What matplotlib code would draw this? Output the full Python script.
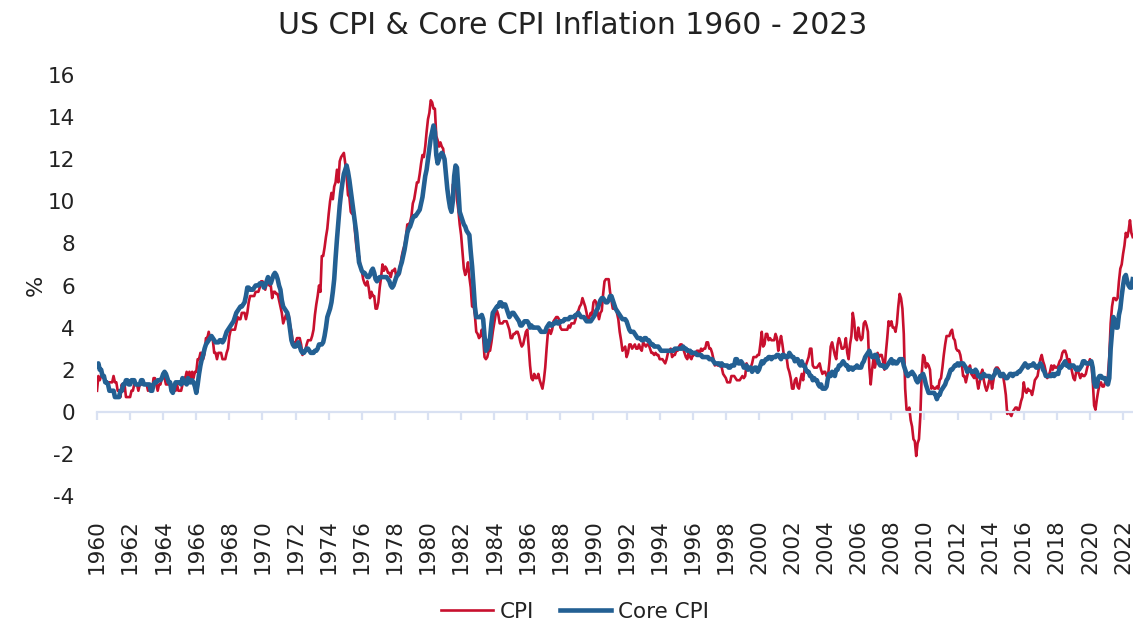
import numpy as np
import matplotlib.pyplot as plt

plt.rcParams['font.family'] = ['DejaVu Sans']
plt.rcParams['axes.unicode_minus'] = False

# monthly year-on-year inflation (%), Jan 1960 - Aug 2022
start_year = 1960

cpi = [
    1.0, 1.7, 1.5, 1.7, 1.7, 1.7, 1.4, 1.4, 1.4, 1.4, 1.4, 1.4,  # 1960
    1.7, 1.4, 1.4, 1.0, 1.0, 0.7, 1.3, 1.0, 1.3, 0.7, 0.7, 0.7,  # 1961
    0.7, 1.0, 1.0, 1.3, 1.3, 1.3, 1.0, 1.3, 1.3, 1.3, 1.3, 1.3,  # 1962
    1.3, 1.0, 1.3, 1.0, 1.0, 1.6, 1.6, 1.3, 1.0, 1.3, 1.3, 1.6,  # 1963
    1.6, 1.6, 1.3, 1.3, 1.3, 1.3, 1.3, 1.0, 1.3, 1.0, 1.3, 1.0,  # 1964
    1.0, 1.0, 1.3, 1.6, 1.6, 1.9, 1.6, 1.9, 1.6, 1.9, 1.6, 1.9,  # 1965
    1.9, 2.5, 2.5, 2.8, 2.8, 2.5, 2.8, 3.5, 3.5, 3.8, 3.5, 3.5,  # 1966
    3.4, 2.8, 2.8, 2.5, 2.8, 2.8, 2.8, 2.5, 2.5, 2.5, 2.8, 3.0,  # 1967
    3.6, 3.9, 3.9, 3.9, 3.9, 4.2, 4.5, 4.4, 4.4, 4.7, 4.7, 4.7,  # 1968
    4.4, 4.7, 5.2, 5.5, 5.5, 5.5, 5.5, 5.7, 5.7, 5.7, 5.9, 6.2,  # 1969
    6.2, 6.1, 5.8, 6.1, 6.1, 6.0, 6.0, 5.4, 5.7, 5.7, 5.6, 5.6,  # 1970
    5.3, 5.0, 4.7, 4.2, 4.4, 4.6, 4.4, 4.6, 4.1, 3.8, 3.3, 3.3,  # 1971
    3.3, 3.5, 3.5, 3.5, 3.2, 2.7, 2.9, 2.9, 3.2, 3.4, 3.4, 3.4,  # 1972
    3.6, 3.9, 4.6, 5.1, 5.5, 6.0, 5.7, 7.4, 7.4, 7.8, 8.3, 8.7,  # 1973
    9.4, 10.0, 10.4, 10.1, 10.7, 10.9, 11.5, 10.9, 11.9, 12.1, 12.2, 12.3,  # 1974
    11.8, 11.2, 10.3, 10.2, 9.5, 9.4, 9.7, 8.6, 7.9, 7.4, 7.4, 6.9,  # 1975
    6.7, 6.3, 6.1, 6.0, 6.2, 5.9, 5.4, 5.7, 5.5, 5.5, 4.9, 4.9,  # 1976
    5.2, 5.9, 6.4, 7.0, 6.7, 6.9, 6.8, 6.6, 6.6, 6.4, 6.7, 6.7,  # 1977
    6.8, 6.4, 6.6, 6.5, 7.0, 7.4, 7.7, 7.9, 8.3, 8.9, 8.9, 9.0,  # 1978
    9.3, 9.9, 10.1, 10.5, 10.9, 10.9, 11.3, 11.8, 12.2, 12.1, 12.6, 13.3,  # 1979
    13.9, 14.2, 14.8, 14.7, 14.4, 14.4, 13.1, 12.9, 12.6, 12.8, 12.6, 12.5,  # 1980
    11.8, 11.4, 10.5, 10.0, 9.8, 9.6, 10.8, 10.8, 11.0, 10.1, 9.6, 8.9,  # 1981
    8.4, 7.6, 6.8, 6.5, 6.7, 7.1, 6.4, 5.9, 5.0, 5.1, 4.6, 3.8,  # 1982
    3.7, 3.5, 3.6, 3.9, 3.5, 2.6, 2.5, 2.6, 2.9, 2.9, 3.3, 3.8,  # 1983
    4.2, 4.6, 4.8, 4.6, 4.2, 4.2, 4.2, 4.3, 4.3, 4.3, 4.1, 3.9,  # 1984
    3.5, 3.5, 3.7, 3.7, 3.8, 3.8, 3.6, 3.3, 3.1, 3.2, 3.5, 3.8,  # 1985
    3.9, 3.1, 2.2, 1.6, 1.5, 1.8, 1.6, 1.6, 1.8, 1.5, 1.3, 1.1,  # 1986
    1.5, 2.1, 3.0, 3.8, 3.9, 3.7, 3.9, 4.3, 4.4, 4.5, 4.5, 4.4,  # 1987
    4.0, 3.9, 3.9, 3.9, 3.9, 3.9, 4.1, 4.0, 4.2, 4.2, 4.2, 4.4,  # 1988
    4.7, 4.8, 5.0, 5.1, 5.4, 5.2, 5.0, 4.7, 4.3, 4.5, 4.7, 4.6,  # 1989
    5.2, 5.3, 5.2, 4.7, 4.4, 4.7, 4.8, 5.6, 6.2, 6.3, 6.3, 6.3,  # 1990
    5.7, 5.3, 4.9, 4.9, 5.0, 4.7, 4.4, 3.8, 3.4, 2.9, 3.0, 3.1,  # 1991
    2.6, 2.8, 3.2, 3.2, 3.0, 3.1, 3.2, 3.0, 3.0, 3.2, 3.0, 2.9,  # 1992
    3.3, 3.2, 3.1, 3.2, 3.2, 3.0, 2.8, 2.8, 2.7, 2.8, 2.7, 2.7,  # 1993
    2.5, 2.5, 2.5, 2.4, 2.3, 2.5, 2.8, 2.9, 3.0, 2.6, 2.7, 2.7,  # 1994
    2.9, 2.9, 3.1, 3.2, 3.2, 3.0, 2.8, 2.6, 2.5, 2.8, 2.6, 2.5,  # 1995
    2.7, 2.7, 2.8, 2.9, 2.9, 2.8, 3.0, 2.9, 3.0, 3.0, 3.3, 3.3,  # 1996
    3.0, 3.0, 2.8, 2.5, 2.2, 2.3, 2.2, 2.2, 2.2, 2.1, 1.8, 1.7,  # 1997
    1.6, 1.4, 1.4, 1.4, 1.7, 1.7, 1.7, 1.6, 1.5, 1.5, 1.5, 1.6,  # 1998
    1.7, 1.6, 1.7, 2.3, 2.1, 2.0, 2.1, 2.3, 2.6, 2.6, 2.6, 2.7,  # 1999
    2.7, 3.2, 3.8, 3.1, 3.2, 3.7, 3.7, 3.4, 3.5, 3.4, 3.4, 3.4,  # 2000
    3.7, 3.5, 2.9, 3.3, 3.6, 3.2, 2.7, 2.7, 2.6, 2.1, 1.9, 1.6,  # 2001
    1.1, 1.1, 1.5, 1.6, 1.2, 1.1, 1.5, 1.8, 1.5, 2.0, 2.2, 2.4,  # 2002
    2.6, 3.0, 3.0, 2.2, 2.1, 2.1, 2.1, 2.2, 2.3, 2.0, 1.8, 1.9,  # 2003
    1.9, 1.7, 1.7, 2.3, 3.1, 3.3, 3.0, 2.7, 2.5, 3.2, 3.5, 3.3,  # 2004
    3.0, 3.0, 3.1, 3.5, 2.8, 2.5, 3.2, 3.6, 4.7, 4.3, 3.5, 3.4,  # 2005
    4.0, 3.6, 3.4, 3.5, 4.2, 4.3, 4.1, 3.8, 2.1, 1.3, 2.0, 2.5,  # 2006
    2.1, 2.4, 2.8, 2.6, 2.7, 2.7, 2.4, 2.0, 2.8, 3.5, 4.3, 4.1,  # 2007
    4.3, 4.0, 4.0, 3.8, 4.2, 5.0, 5.6, 5.4, 4.9, 3.7, 1.1, 0.1,  # 2008
    0.0, 0.2, -0.4, -0.7, -1.3, -1.4, -2.1, -1.5, -1.3, -0.2, 1.8, 2.7,  # 2009
    2.6, 2.1, 2.3, 2.2, 2.0, 1.1, 1.2, 1.1, 1.1, 1.2, 1.1, 1.5,  # 2010
    1.6, 2.1, 2.7, 3.2, 3.6, 3.6, 3.6, 3.8, 3.9, 3.5, 3.4, 3.0,  # 2011
    2.9, 2.9, 2.7, 2.3, 1.7, 1.7, 1.4, 1.7, 2.0, 2.2, 1.8, 1.7,  # 2012
    1.6, 2.0, 1.5, 1.1, 1.4, 1.8, 2.0, 1.5, 1.2, 1.0, 1.2, 1.5,  # 2013
    1.6, 1.1, 1.5, 2.0, 2.1, 2.1, 2.0, 1.7, 1.7, 1.7, 1.3, 0.8,  # 2014
    -0.1, 0.0, -0.1, -0.2, 0.0, 0.1, 0.2, 0.2, 0.0, 0.2, 0.5, 0.7,  # 2015
    1.4, 1.0, 0.9, 1.1, 1.0, 1.0, 0.8, 1.1, 1.5, 1.6, 1.7, 2.1,  # 2016
    2.5, 2.7, 2.4, 2.2, 1.9, 1.6, 1.7, 1.9, 2.2, 2.0, 2.2, 2.1,  # 2017
    2.1, 2.2, 2.4, 2.5, 2.8, 2.9, 2.9, 2.7, 2.3, 2.5, 2.2, 1.9,  # 2018
    1.6, 1.5, 1.9, 2.0, 1.8, 1.6, 1.8, 1.7, 1.7, 1.8, 2.1, 2.3,  # 2019
    2.5, 2.3, 1.5, 0.3, 0.1, 0.6, 1.0, 1.3, 1.4, 1.2, 1.2, 1.4,  # 2020
    1.4, 1.7, 2.6, 4.2, 5.0, 5.4, 5.4, 5.3, 5.4, 6.2, 6.8, 7.0,  # 2021
    7.5, 7.9, 8.5, 8.3, 8.6, 9.1, 8.5, 8.3,  # 2022
]

core_cpi = [
    2.2, 2.3, 2.0, 2.0, 1.7, 1.7, 1.4, 1.4, 1.3, 1.0, 1.0, 1.0,  # 1960
    1.0, 0.7, 0.7, 0.7, 0.7, 1.0, 1.0, 1.3, 1.3, 1.5, 1.5, 1.3,  # 1961
    1.3, 1.5, 1.5, 1.5, 1.3, 1.3, 1.3, 1.3, 1.5, 1.5, 1.3, 1.3,  # 1962
    1.3, 1.3, 1.3, 1.0, 1.0, 1.3, 1.4, 1.4, 1.5, 1.5, 1.5, 1.6,  # 1963
    1.8, 1.9, 1.8, 1.6, 1.4, 1.4, 1.0, 0.9, 1.2, 1.4, 1.4, 1.4,  # 1964
    1.4, 1.3, 1.6, 1.4, 1.4, 1.3, 1.6, 1.4, 1.4, 1.5, 1.4, 1.2,  # 1965
    0.9, 1.3, 1.8, 2.2, 2.5, 2.7, 3.0, 3.2, 3.3, 3.4, 3.5, 3.6,  # 1966
    3.5, 3.4, 3.3, 3.3, 3.3, 3.4, 3.4, 3.3, 3.4, 3.6, 3.8, 3.9,  # 1967
    4.0, 4.1, 4.2, 4.3, 4.5, 4.7, 4.8, 4.9, 5.0, 5.0, 5.1, 5.2,  # 1968
    5.5, 5.9, 5.9, 5.8, 5.8, 5.8, 5.9, 6.0, 6.0, 6.0, 6.1, 6.1,  # 1969
    6.1, 5.9, 6.0, 6.2, 6.4, 6.2, 6.1, 6.3, 6.5, 6.6, 6.5, 6.3,  # 1970
    6.0, 5.8, 5.3, 5.0, 4.9, 4.8, 4.7, 4.4, 3.9, 3.4, 3.2, 3.1,  # 1971
    3.1, 3.2, 3.3, 3.1, 2.9, 2.8, 2.8, 2.9, 3.0, 3.0, 2.9, 2.8,  # 1972
    2.8, 2.8, 2.9, 2.9, 3.0, 3.2, 3.2, 3.2, 3.3, 3.6, 4.0, 4.5,  # 1973
    4.7, 4.9, 5.2, 5.7, 6.3, 7.3, 8.2, 9.0, 9.8, 10.4, 10.9, 11.3,  # 1974
    11.5, 11.7, 11.4, 11.0, 10.5, 10.0, 9.5, 9.0, 8.5, 7.8, 7.1, 6.9,  # 1975
    6.7, 6.6, 6.6, 6.5, 6.4, 6.4, 6.5, 6.7, 6.8, 6.6, 6.3, 6.2,  # 1976
    6.3, 6.4, 6.4, 6.4, 6.4, 6.4, 6.4, 6.3, 6.2, 6.0, 5.9, 6.0,  # 1977
    6.2, 6.4, 6.5, 6.6, 6.9, 7.1, 7.4, 7.7, 8.1, 8.5, 8.7, 8.8,  # 1978
    9.0, 9.2, 9.3, 9.3, 9.4, 9.5, 9.6, 9.9, 10.2, 10.7, 11.2, 11.5,  # 1979
    12.0, 12.5, 13.0, 13.3, 13.6, 13.3, 12.2, 11.8, 12.0, 12.2, 12.3, 12.2,  # 1980
    12.0, 11.3, 10.6, 10.1, 9.7, 9.5, 10.0, 11.2, 11.7, 11.6, 10.6, 9.5,  # 1981
    9.3, 9.1, 8.9, 8.8, 8.6, 8.5, 8.4, 7.6, 6.9, 6.0, 5.0, 4.5,  # 1982
    4.5, 4.5, 4.5, 4.6, 4.4, 3.6, 2.9, 3.0, 3.3, 3.5, 4.2, 4.7,  # 1983
    4.8, 4.9, 5.0, 5.0, 5.2, 5.2, 5.0, 5.1, 5.1, 4.9, 4.7, 4.5,  # 1984
    4.6, 4.7, 4.7, 4.6, 4.5, 4.4, 4.3, 4.1, 4.1, 4.2, 4.3, 4.3,  # 1985
    4.3, 4.2, 4.0, 4.1, 4.0, 4.0, 4.0, 4.0, 4.0, 3.9, 3.8, 3.8,  # 1986
    3.8, 3.8, 4.0, 4.1, 4.2, 4.1, 4.1, 4.2, 4.2, 4.3, 4.2, 4.2,  # 1987
    4.3, 4.3, 4.3, 4.4, 4.4, 4.4, 4.4, 4.5, 4.5, 4.5, 4.5, 4.6,  # 1988
    4.6, 4.7, 4.6, 4.5, 4.5, 4.5, 4.4, 4.3, 4.3, 4.3, 4.3, 4.4,  # 1989
    4.5, 4.6, 4.8, 4.9, 5.1, 5.3, 5.4, 5.4, 5.3, 5.2, 5.2, 5.3,  # 1990
    5.5, 5.5, 5.3, 5.1, 4.9, 4.8, 4.7, 4.6, 4.5, 4.4, 4.4, 4.4,  # 1991
    4.3, 4.1, 3.9, 3.8, 3.8, 3.8, 3.7, 3.6, 3.5, 3.5, 3.5, 3.4,  # 1992
    3.4, 3.5, 3.5, 3.4, 3.4, 3.3, 3.2, 3.2, 3.1, 3.1, 3.1, 3.1,  # 1993
    3.0, 2.9, 2.9, 2.9, 2.9, 2.9, 2.9, 2.9, 2.9, 2.9, 2.9, 3.0,  # 1994
    3.0, 3.0, 3.0, 3.0, 3.0, 3.1, 3.0, 3.0, 2.9, 2.9, 2.9, 2.8,  # 1995
    2.8, 2.8, 2.8, 2.7, 2.7, 2.7, 2.7, 2.6, 2.6, 2.6, 2.6, 2.6,  # 1996
    2.5, 2.5, 2.5, 2.4, 2.3, 2.3, 2.3, 2.3, 2.2, 2.3, 2.2, 2.2,  # 1997
    2.2, 2.2, 2.1, 2.1, 2.2, 2.2, 2.2, 2.5, 2.5, 2.3, 2.3, 2.4,  # 1998
    2.3, 2.1, 2.1, 2.2, 2.0, 2.1, 2.1, 1.9, 2.0, 2.1, 2.1, 1.9,  # 1999
    2.0, 2.2, 2.4, 2.3, 2.4, 2.5, 2.5, 2.6, 2.6, 2.5, 2.6, 2.6,  # 2000
    2.6, 2.7, 2.7, 2.6, 2.5, 2.7, 2.7, 2.6, 2.6, 2.6, 2.8, 2.7,  # 2001
    2.6, 2.6, 2.4, 2.5, 2.5, 2.3, 2.2, 2.4, 2.2, 2.2, 2.0, 1.9,  # 2002
    1.9, 1.7, 1.7, 1.5, 1.6, 1.5, 1.5, 1.3, 1.2, 1.3, 1.1, 1.1,  # 2003
    1.1, 1.2, 1.6, 1.8, 1.7, 1.9, 1.8, 1.7, 2.0, 2.0, 2.2, 2.2,  # 2004
    2.3, 2.4, 2.3, 2.2, 2.2, 2.0, 2.1, 2.1, 2.0, 2.1, 2.1, 2.2,  # 2005
    2.1, 2.1, 2.1, 2.3, 2.4, 2.6, 2.7, 2.8, 2.9, 2.7, 2.6, 2.6,  # 2006
    2.7, 2.7, 2.5, 2.3, 2.2, 2.2, 2.2, 2.1, 2.1, 2.2, 2.3, 2.4,  # 2007
    2.5, 2.3, 2.4, 2.3, 2.3, 2.4, 2.5, 2.5, 2.5, 2.2, 2.0, 1.8,  # 2008
    1.7, 1.8, 1.8, 1.9, 1.8, 1.7, 1.5, 1.4, 1.5, 1.7, 1.7, 1.8,  # 2009
    1.6, 1.3, 1.1, 0.9, 0.9, 0.9, 0.9, 0.9, 0.8, 0.6, 0.8, 0.8,  # 2010
    1.0, 1.1, 1.2, 1.3, 1.5, 1.6, 1.8, 2.0, 2.0, 2.1, 2.2, 2.2,  # 2011
    2.3, 2.2, 2.3, 2.3, 2.3, 2.2, 2.1, 1.9, 2.0, 2.0, 1.9, 1.9,  # 2012
    1.9, 2.0, 1.9, 1.7, 1.7, 1.6, 1.7, 1.8, 1.7, 1.7, 1.7, 1.7,  # 2013
    1.6, 1.6, 1.7, 1.8, 2.0, 1.9, 1.9, 1.7, 1.7, 1.8, 1.7, 1.6,  # 2014
    1.6, 1.7, 1.8, 1.8, 1.7, 1.8, 1.8, 1.8, 1.9, 1.9, 2.0, 2.1,  # 2015
    2.2, 2.3, 2.2, 2.1, 2.2, 2.2, 2.2, 2.3, 2.2, 2.1, 2.1, 2.2,  # 2016
    2.3, 2.2, 2.0, 1.9, 1.7, 1.7, 1.7, 1.7, 1.7, 1.8, 1.7, 1.8,  # 2017
    1.8, 1.8, 2.1, 2.1, 2.2, 2.3, 2.4, 2.2, 2.2, 2.1, 2.2, 2.2,  # 2018
    2.2, 2.1, 2.0, 2.1, 2.0, 2.1, 2.2, 2.4, 2.4, 2.3, 2.3, 2.3,  # 2019
    2.3, 2.4, 2.1, 1.4, 1.2, 1.2, 1.6, 1.7, 1.7, 1.6, 1.6, 1.6,  # 2020
    1.4, 1.3, 1.6, 3.0, 3.8, 4.5, 4.3, 4.0, 4.0, 4.6, 4.9, 5.5,  # 2021
    6.0, 6.4, 6.5, 6.2, 6.0, 5.9, 5.9, 6.3,  # 2022
]

tick_years = list(range(1960, 2023, 2))

dates = start_year + np.arange(len(cpi)) / 12

text_col = '#222222'
axis_col = '#D9E1F2'

fig = plt.figure(figsize=(11.33, 6.22), dpi=100)
ax = fig.add_axes([97 / 1133, 126 / 622, 1036 / 1133, 421 / 622])

ax.plot(dates, cpi, color='#C8102E', lw=1.9, label='CPI')
ax.plot(dates, core_cpi, color='#236093', lw=3.3, label='Core CPI')

ax.set_xlim(1960, 2022.6)
ax.set_ylim(-4, 16)
ax.set_yticks(range(-4, 17, 2))

for s in ['top', 'right', 'left']:
    ax.spines[s].set_visible(False)
ax.spines['bottom'].set_position(('data', 0))
ax.spines['bottom'].set_color(axis_col)
ax.spines['bottom'].set_linewidth(1.6)

ax.set_xticks(tick_years)
ax.tick_params(axis='x', length=6, width=1.6, color=axis_col, labelbottom=False)
ax.tick_params(axis='y', length=0, pad=16, labelsize=15.5, labelcolor=text_col)

# year labels sit at the bottom of the plot, not on the zero line
sec = ax.secondary_xaxis('bottom')
sec.set_xticks(tick_years)
sec.set_xticklabels([str(y) for y in tick_years], rotation=90)
sec.tick_params(length=0, pad=17, labelsize=15.5, labelcolor=text_col)
sec.spines['bottom'].set_visible(False)

ax.set_ylabel('%', fontsize=16, color=text_col, labelpad=1)

fig.text(0.505, 1 - 25 / 622, 'US CPI & Core CPI Inflation 1960 - 2023',
         ha='center', va='center', fontsize=21.5, color=text_col)

fig.legend(loc='center', bbox_to_anchor=(575 / 1133, 1 - 612 / 622), ncol=2,
           frameon=False, fontsize=15.5, handlelength=2.4, handletextpad=0.3,
           columnspacing=1.2, labelcolor=text_col)

fig.savefig('out.png', dpi=100)
